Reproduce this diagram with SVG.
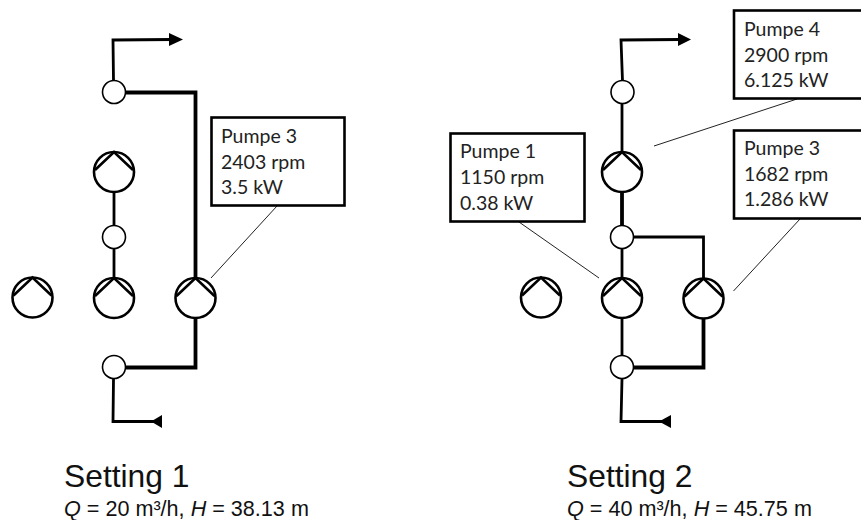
<svg xmlns="http://www.w3.org/2000/svg" width="861" height="520" viewBox="0 0 861 520">
<style>
.bg{fill:#fff}
.ring{fill:#fff;stroke:#000;stroke-width:2.6}
.chev{fill:none;stroke:#000;stroke-width:2.6}
.vc{fill:#fff;stroke:#000;stroke-width:1.6}
.box rect{fill:#fff;stroke:#000;stroke-width:2.6}
.box text{font-family:Lato,"Open Sans","Liberation Sans",sans-serif;font-size:19.5px;fill:#222}
.p{fill:none;stroke:#000;stroke-width:2.8}
.b{fill:none;stroke:#000;stroke-width:3.8}
.l{fill:none;stroke:#222;stroke-width:1}
.h{font-family:"Liberation Sans",Arial,sans-serif;font-size:31.8px;fill:#111}
.s{font-family:"Liberation Sans",Arial,sans-serif;font-size:21.6px;fill:#111}
</style>
<defs>
<g id="pumpSym"><circle class="ring" r="20"/><path class="chev" d="M-19,-2 L0,-20 L19,-2"/></g>
<circle id="valveSym" class="vc" r="11.5"/>
</defs>
<rect class="bg" width="861" height="520"/>
<g id="connectors">
<path class="p" d="M113.5,81 L113,40 L172,39.5"/>
<path class="b" d="M126,92.5 L195.5,92.5 L195.5,278"/>
<path class="b" d="M195.5,318 L195.5,367.5 L126,367.5"/>
<path class="p" d="M114,192 V278"/>
<path class="p" d="M113.5,379 L113,421.5 L155,421.5"/>
<path d="M183,39.5 L169,33 V46 Z"/>
<path d="M151,421.5 L162,415 V428 Z"/>
<path class="l" d="M277,206 L211,278"/>
<path class="p" d="M622.5,81 L621,40 L680,39.5"/>
<path class="p" d="M622,104 V152"/>
<path class="b" d="M622,192 V226"/>
<path class="p" d="M622,248 V278"/>
<path class="p" d="M634,237 H703.5 V279"/>
<path class="p" d="M622,317 V356"/>
<path class="b" d="M703.5,318 V367.5 H634"/>
<path class="p" d="M622,379 L621,421.5 L663,421.5"/>
<path d="M691,39.5 L678,33 V46 Z"/>
<path d="M659,421.5 L671,415 V428 Z"/>
<path class="l" d="M797,99 L654,146"/>
<path class="l" d="M800,219 L733.5,291"/>
<path class="l" d="M519,222 L599,278"/>
</g>
<g id="s1-valve-top"><use href="#valveSym" x="114" y="92"/></g>
<g id="s1-valve-mid"><use href="#valveSym" x="114" y="237"/></g>
<g id="s1-valve-bot"><use href="#valveSym" x="114" y="367"/></g>
<g id="s1-pump4"><use href="#pumpSym" x="114" y="172"/></g>
<g id="s1-pump0"><use href="#pumpSym" x="32.5" y="297.5"/></g>
<g id="s1-pump1"><use href="#pumpSym" x="114" y="298"/></g>
<g id="s1-pump3"><use href="#pumpSym" x="195.5" y="298"/></g>
<g id="s2-valve-top"><use href="#valveSym" x="622.5" y="92"/></g>
<g id="s2-valve-mid"><use href="#valveSym" x="622" y="237"/></g>
<g id="s2-valve-bot"><use href="#valveSym" x="622" y="367"/></g>
<g id="s2-pump4"><use href="#pumpSym" x="622" y="172"/></g>
<g id="s2-pump0"><use href="#pumpSym" x="541" y="297.5"/></g>
<g id="s2-pump1"><use href="#pumpSym" x="622" y="298"/></g>
<g id="s2-pump3"><use href="#pumpSym" x="703.5" y="298.5"/></g>
<g id="s1-box3" class="box"><rect x="211.5" y="117.5" width="133" height="88"/>
<text x="221" y="143">Pumpe 3</text><text x="221" y="169">2403 rpm</text><text x="221" y="194">3.5 kW</text></g>
<g id="s2-box4" class="box"><rect x="734" y="10.5" width="140" height="88"/>
<text x="744" y="36">Pumpe 4</text><text x="744" y="62">2900 rpm</text><text x="744" y="87">6.125 kW</text></g>
<g id="s2-box3" class="box"><rect x="734" y="130.5" width="140" height="88"/>
<text x="744" y="155">Pumpe 3</text><text x="744" y="181">1682 rpm</text><text x="744" y="206">1.286 kW</text></g>
<g id="s2-box1" class="box"><rect x="450.5" y="133.5" width="134" height="88"/>
<text x="460" y="158">Pumpe 1</text><text x="460" y="184">1150 rpm</text><text x="460" y="210">0.38 kW</text></g>
<text class="h" x="64" y="487">Setting 1</text>
<text class="s" x="64" y="516"><tspan font-style="italic">Q</tspan> = 20 m³/h, <tspan font-style="italic">H</tspan> = 38.13 m</text>
<text class="h" x="567" y="487">Setting 2</text>
<text class="s" x="567" y="516"><tspan font-style="italic">Q</tspan> = 40 m³/h, <tspan font-style="italic">H</tspan> = 45.75 m</text>
</svg>
